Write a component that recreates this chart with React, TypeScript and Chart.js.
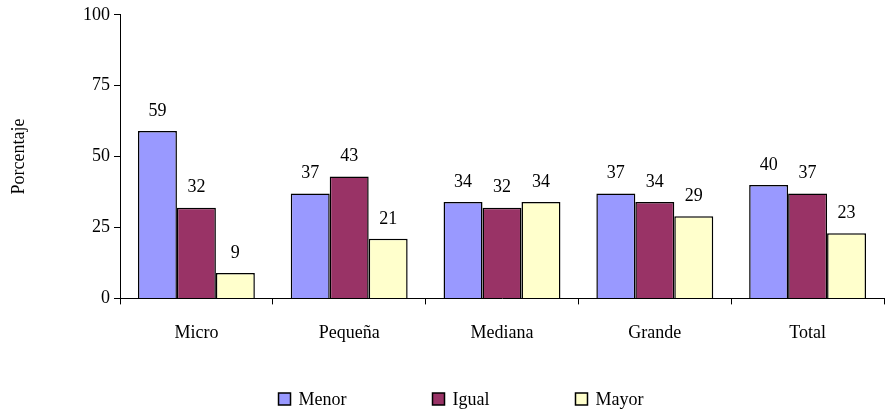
import React, { useEffect, useRef } from "react";
import { Chart, registerables } from "chart.js";

Chart.register(...registerables);

const categories = ["Micro", "Pequeña", "Mediana", "Grande", "Total"];
const menor = [59, 37, 34, 37, 40];
const igual = [32, 43, 32, 34, 37];
const mayor = [9, 21, 34, 29, 23];
const yTicks = [0, 25, 50, 75, 100];

const FONT = '"Liberation Serif", "Times New Roman", serif';
const FS = 18;

const valueLabels = {
  id: "valueLabels",
  afterDatasetsDraw(chart: any) {
    const ctx = chart.ctx;
    ctx.save();
    ctx.font = `${FS}px ${FONT}`;
    ctx.fillStyle = "#000";
    ctx.textAlign = "center";
    ctx.textBaseline = "bottom";
    chart.data.datasets.forEach((ds: any, i: number) => {
      const meta = chart.getDatasetMeta(i);
      meta.data.forEach((bar: any, j: number) => {
        ctx.fillText(String(ds.data[j]), bar.x, bar.y - 11);
      });
    });
    ctx.restore();
  },
};

const customLegend = {
  id: "customLegend",
  afterDraw(chart: any) {
    const ctx = chart.ctx;
    ctx.save();
    ctx.font = `${FS}px ${FONT}`;
    const box = 12, gap = 8, spacing = 86;
    const items = chart.data.datasets.map((ds: any) => ({
      text: ds.label,
      color: ds.backgroundColor,
      w: box + gap + ctx.measureText(ds.label).width,
    }));
    const total = items.reduce((a: number, it: any) => a + it.w, 0) + spacing * (items.length - 1);
    let x = chart.width / 2 - total / 2 + 14;
    const cy = 399;
    items.forEach((it: any) => {
      ctx.fillStyle = it.color;
      ctx.fillRect(x, cy - box / 2, box, box);
      ctx.strokeStyle = "#000";
      ctx.lineWidth = 1.5;
      ctx.strokeRect(x, cy - box / 2, box, box);
      ctx.fillStyle = "#000";
      ctx.textAlign = "left";
      ctx.textBaseline = "middle";
      ctx.fillText(it.text, x + box + gap, cy + 1);
      x += it.w + spacing;
    });
    ctx.restore();
  },
};

export default function App() {
  const ref = useRef<HTMLCanvasElement>(null);
  useEffect(() => {
    document.body.style.margin = "0";
    const chart = new Chart(ref.current!, {
      type: "bar",
      data: {
        labels: categories,
        datasets: [
          { label: "Menor", data: menor, backgroundColor: "#9999FF", borderColor: "#000", borderWidth: 1.5 },
          { label: "Igual", data: igual, backgroundColor: "#993366", borderColor: "#000", borderWidth: 1.5 },
          { label: "Mayor", data: mayor, backgroundColor: "#FFFFCC", borderColor: "#000", borderWidth: 1.5 },
        ],
      },
      options: {
        animation: false,
        responsive: false,
        layout: { padding: { top: 10, right: 10, left: 0, bottom: 50 } },
        datasets: { bar: { categoryPercentage: 0.765, barPercentage: 1 } },
        plugins: {
          tooltip: { enabled: false },
          legend: { display: false },
        },
        scales: {
          x: {
            grid: { display: true, drawOnChartArea: false, offset: true, color: "#000", tickLength: 6 },
            border: { display: true, color: "#000", width: 1 },
            ticks: { font: { family: FONT, size: FS }, color: "#000", padding: 18 },
          },
          y: {
            min: 0,
            max: 100,
            afterFit: (s: any) => { s.width = 120; },
            afterBuildTicks: (s: any) => { s.ticks = yTicks.map((v) => ({ value: v })); },
            grid: { display: true, drawOnChartArea: false, color: "#000", tickLength: 6 },
            border: { display: true, color: "#000", width: 1 },
            ticks: { font: { family: FONT, size: FS }, color: "#000", padding: 4 },
            title: { display: true, text: "Porcentaje", font: { family: FONT, size: FS }, color: "#000", padding: { top: 8, bottom: 40 } },
          },
        },
      },
      plugins: [valueLabels, customLegend],
    });
    return () => chart.destroy();
  }, []);
  return <canvas ref={ref} width={894} height={412} style={{ display: "block" }} />;
}
